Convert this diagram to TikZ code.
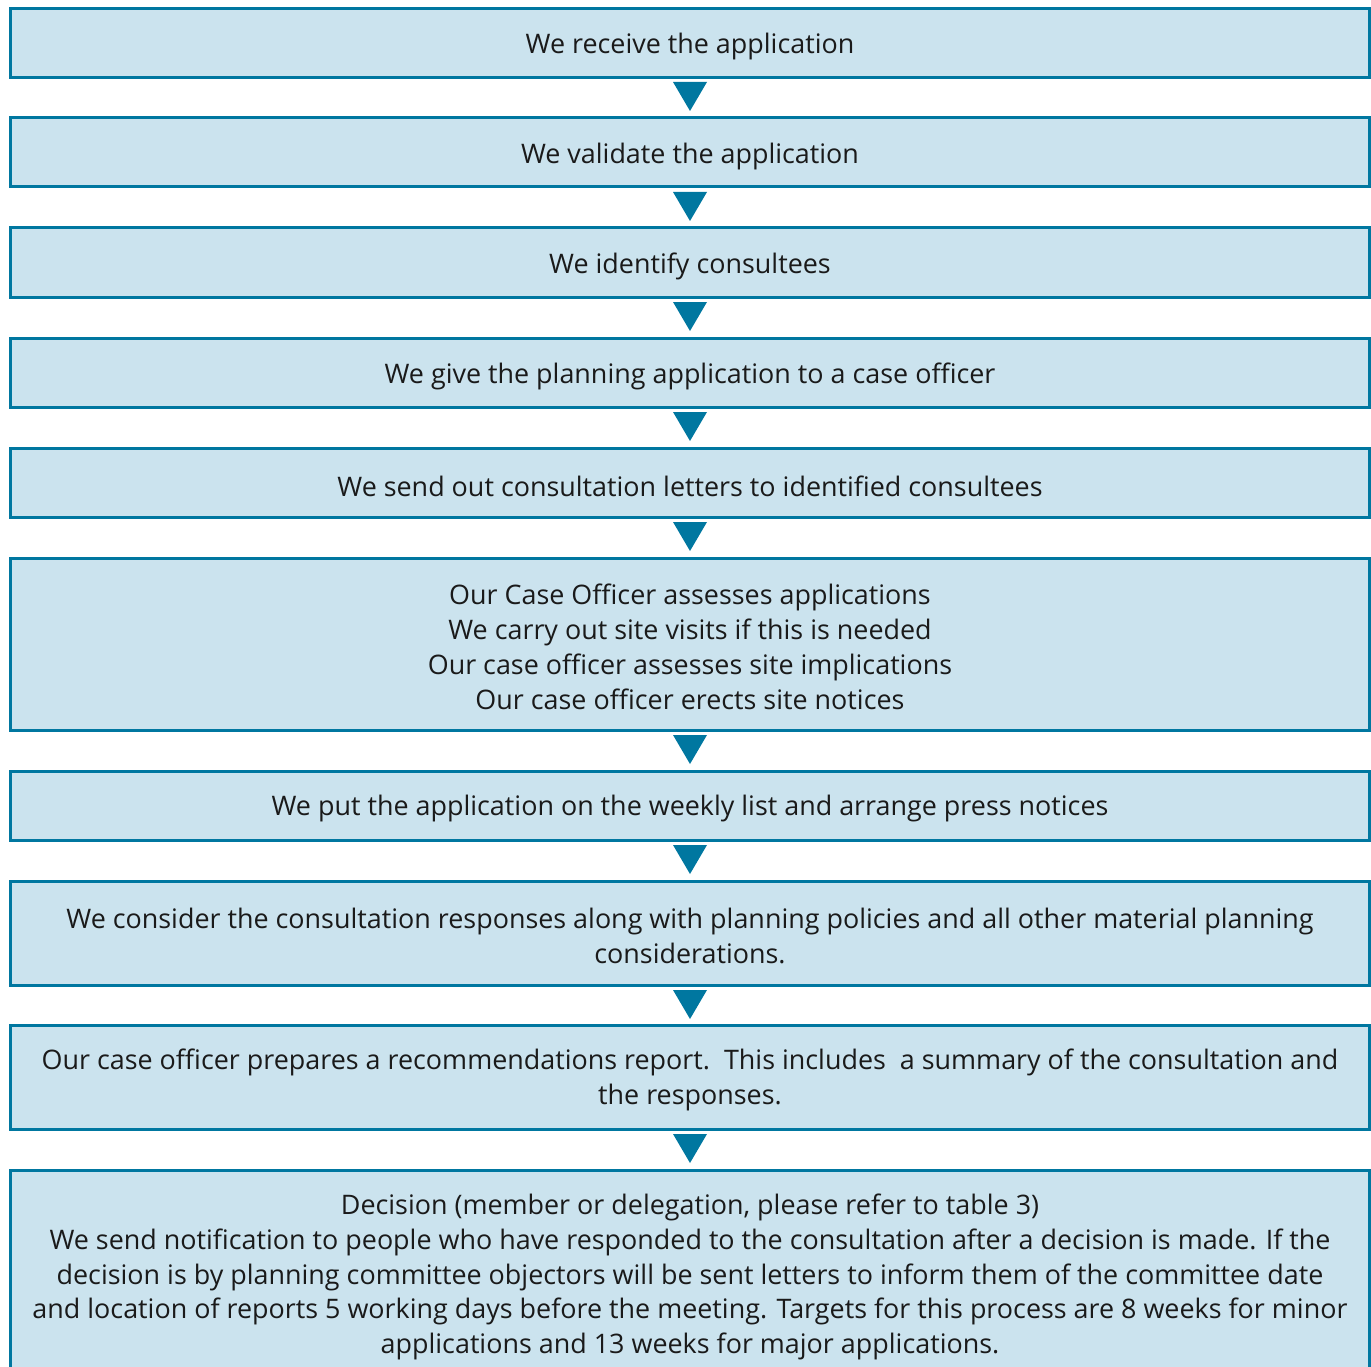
\documentclass[tikz,border=0pt]{standalone}
\usepackage{fontspec}
\setmainfont{Open Sans}
\definecolor{boxfill}{HTML}{CBE3EE}
\definecolor{boxline}{HTML}{0077A0}
\definecolor{txt}{HTML}{1A1A1A}
\begin{document}
\begin{tikzpicture}[x=1pt,y=-1pt,
  stepbox/.style={draw=boxline,fill=boxfill,line width=3pt},
  lbl/.style={align=center,text=txt,font=\fontsize{26.9}{34.8}\selectfont,inner sep=0pt},
  tri/.style={fill=boxline}]
\useasboundingbox (0,0) rectangle (1371,1367);
\clip (0,0) rectangle (1371,1367);
\draw[stepbox] (10,9) rectangle (1369,78);
\node[lbl] (t1) at (690,47) {We receive the application};
\draw[stepbox] (10,118) rectangle (1369,187);
\node[lbl] (t2) at (690,157) {We validate the application};
\draw[stepbox] (10,228) rectangle (1369,297);
\node[lbl] (t3) at (690,266) {We identify consultees};
\draw[stepbox] (10,338) rectangle (1369,407);
\node[lbl] (t4) at (690,376) {We give the planning application to a case officer};
\draw[stepbox] (10,448) rectangle (1369,517);
\node[lbl] (t5) at (690,486) {We send out consultation letters to identified consultees};
\draw[stepbox] (10,558) rectangle (1369,730);
\node[lbl] (t6) at (690,647) {Our Case Officer assesses applications\\We carry out site visits if this is needed\\Our case officer assesses site implications\\Our case officer erects site notices};
\draw[stepbox] (10,771) rectangle (1369,840);
\node[lbl] (t7) at (690,809) {We put the application on the weekly list and arrange press notices};
\draw[stepbox] (10,881) rectangle (1369,985);
\node[lbl] (t8) at (690,936) {We consider the consultation responses along with planning policies and all other material planning\\considerations.};
\draw[stepbox] (10,1025) rectangle (1369,1129);
\node[lbl] (t9) at (690,1080) {Our case officer prepares a recommendations report.\ \ This includes\ \ a summary of the consultation and\\the responses.};
\draw[stepbox] (10,1170) rectangle (1369,1400);
\node[lbl] (t10) at (690,1277) {Decision (member or delegation, please refer to table 3)\\We send notification to people who have responded to the consultation after a decision is made. If the\\decision is by planning committee objectors will be sent letters to inform them of the committee date\\and location of reports 5 working days before the meeting. Targets for this process are 8 weeks for minor\\applications and 13 weeks for major applications.};
\foreach \ya/\na in {82/a1,192/a2,302/a3,412/a4,522/a5,735/a6,845/a7,990/a8,1134/a9}{
  \fill[tri] (673,\ya) coordinate (\na l) -- (707,\ya) coordinate (\na r) -- (690,\ya+29) coordinate (\na b) -- cycle;
}
\end{tikzpicture}
\end{document}
